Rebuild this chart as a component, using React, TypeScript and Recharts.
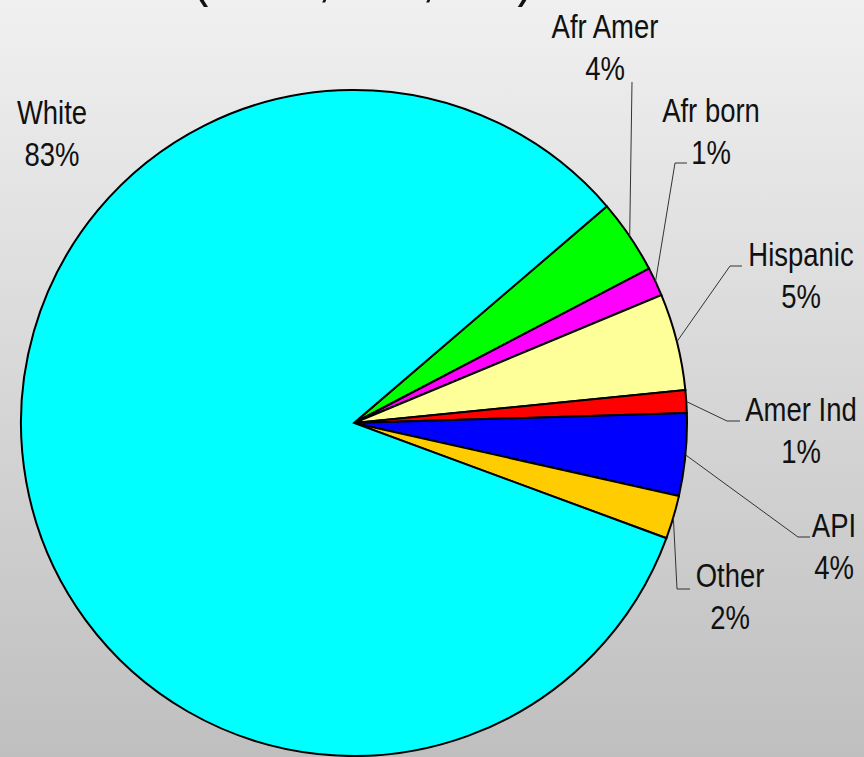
import { PieChart, Pie, Cell } from "recharts"

const groups = ["Afr Amer", "Afr born", "Hispanic", "Amer Ind", "API", "Other", "White"]
const shares = [3.6, 1.4, 4.7, 1.1, 4.0, 2.1, 83.1]
const colors = ["#00ff00", "#ff00ff", "#ffff99", "#ff0000", "#0000ff", "#ffcc00", "#00ffff"]

// where each label sits: elbow of leader, end of the short tick, text centre, first baseline
const labelSpots: Record<string, { ex?: number; ey?: number; hx?: number; tx: number; ty: number }> = {
  "Afr Amer": { ex: 632, ey: 82, hx: 632, tx: 605, ty: 38 },
  "Afr born": { ex: 675, ey: 163, hx: 687, tx: 711, ty: 122 },
  Hispanic: { ex: 730, ey: 266, hx: 742, tx: 801, ty: 266 },
  "Amer Ind": { ex: 727, ey: 421, hx: 740, tx: 801, ty: 421 },
  API: { ex: 798, ey: 537, hx: 810, tx: 834, ty: 537 },
  Other: { ex: 677, ey: 589, hx: 690, tx: 730, ty: 587 },
  White: { tx: 52, ty: 124 },
}

const data = groups.map((name, i) => ({ name, value: shares[i] }))

// no Arial Narrow here, so squeeze Liberation Sans instead
const FONT = "'Liberation Sans', Arial, sans-serif"
const SQUEEZE = 0.82
const RAD = Math.PI / 180

const NarrowText = ({ x, y, size, anchor, children }: any) => (
  <text
    transform={`translate(${x},${y}) scale(${SQUEEZE},1)`}
    textAnchor={anchor}
    fontFamily={FONT}
    fontSize={size}
    fill="#111"
  >
    {children}
  </text>
)

const renderLabel = (props: any) => {
  const { cx, cy, midAngle, outerRadius, name, value } = props
  const spot = labelSpots[name]
  if (!spot) return null
  const sx = cx + outerRadius * Math.cos(-midAngle * RAD)
  const sy = cy + outerRadius * Math.sin(-midAngle * RAD)
  return (
    <g>
      {spot.ex !== undefined && (
        <polyline
          points={`${sx},${sy} ${spot.ex},${spot.ey} ${spot.hx},${spot.ey}`}
          fill="none"
          stroke="#333"
          strokeWidth={1}
        />
      )}
      <NarrowText x={spot.tx} y={spot.ty} size={33.5} anchor="middle">
        {name}
      </NarrowText>
      <NarrowText x={spot.tx} y={spot.ty + 42} size={33.5} anchor="middle">
        {Math.round(value)}%
      </NarrowText>
    </g>
  )
}

export default function App() {
  return (
    <div
      style={{
        position: "absolute",
        left: 0,
        top: 0,
        width: 864,
        height: 757,
        overflow: "hidden",
        background: "linear-gradient(to bottom, #f0f0f0, #bfbfbf)",
      }}
    >
      <svg width={864} height={40} style={{ position: "absolute", left: 0, top: 0 }}>
        <NarrowText x={192} y={-5} size={60} anchor="start">
          (2010, MN, 5.3)
        </NarrowText>
      </svg>
      <div style={{ position: "absolute", left: 0, top: 0 }}>
        <PieChart width={864} height={757} margin={{ top: 0, right: 0, bottom: 0, left: 0 }}>
          <Pie
            data={data}
            dataKey="value"
            nameKey="name"
            cx={354}
            cy={423}
            outerRadius={333}
            startAngle={40.6}
            endAngle={-319.4}
            stroke="#000"
            strokeWidth={2}
            label={renderLabel}
            labelLine={false}
            isAnimationActive={false}
          >
            {data.map((d, i) => (
              <Cell key={d.name} fill={colors[i]} />
            ))}
          </Pie>
        </PieChart>
      </div>
    </div>
  )
}
